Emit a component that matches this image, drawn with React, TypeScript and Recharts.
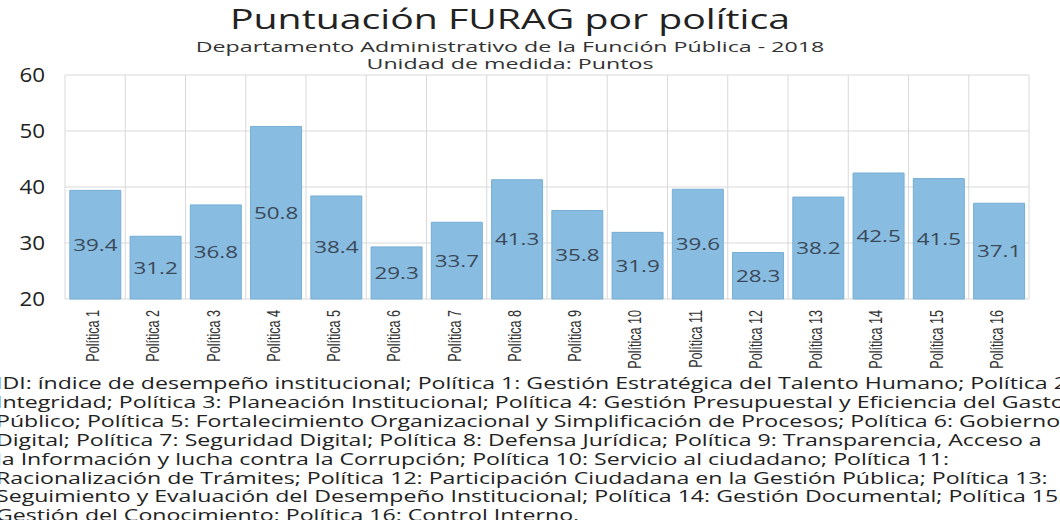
import React from 'react';
import { Bar, BarChart, CartesianGrid, LabelList, XAxis, YAxis } from 'recharts';

const politicas = [
  'Política 1', 'Política 2', 'Política 3', 'Política 4', 'Política 5', 'Política 6',
  'Política 7', 'Política 8', 'Política 9', 'Política 10', 'Política 11', 'Política 12',
  'Política 13', 'Política 14', 'Política 15', 'Política 16',
];
const puntos = [39.4, 31.2, 36.8, 50.8, 38.4, 29.3, 33.7, 41.3, 35.8, 31.9, 39.6, 28.3, 38.2, 42.5, 41.5, 37.1];
const yTicks = [20, 30, 40, 50, 60];

const titulo = 'Puntuación FURAG por política';
const subtitulos = ['Departamento Administrativo de la Función Pública - 2018', 'Unidad de medida: Puntos'];
const notas = [
  'IDI: índice de desempeño institucional; Política 1: Gestión Estratégica del Talento Humano; Política 2:',
  'Integridad; Política 3: Planeación Institucional; Política 4: Gestión Presupuestal y Eficiencia del Gasto',
  'Público; Política 5: Fortalecimiento Organizacional y Simplificación de Procesos; Política 6: Gobierno',
  'Digital; Política 7: Seguridad Digital; Política 8: Defensa Jurídica; Política 9: Transparencia, Acceso a',
  'la Información y lucha contra la Corrupción; Política 10: Servicio al ciudadano; Política 11:',
  'Racionalización de Trámites; Política 12: Participación Ciudadana en la Gestión Pública; Política 13:',
  'Seguimiento y Evaluación del Desempeño Institucional; Política 14: Gestión Documental; Política 15:',
  'Gestión del Conocimiento; Política 16: Control Interno.',
];

const data = politicas.map((name, i) => ({ name, value: puntos[i] }));

const FONT = '"Open Sans", "DejaVu Sans", sans-serif';

function YTick({ x, y, payload }: any) {
  return (
    <g transform={`translate(${x},${y}) scale(1.12,1)`}>
      <text x={0} y={0} dy={7} textAnchor="end" fill="#222" fontSize={20} fontFamily={FONT}>
        {payload.value}
      </text>
    </g>
  );
}

function XTick({ x, y, payload }: any) {
  return (
    <g transform={`translate(${x + 4},${y + 3}) rotate(-90) scale(0.7,1)`}>
      <text x={0} y={0} textAnchor="end" fill="#333" fontSize={18} fontFamily='"Liberation Sans", Arial, sans-serif'>
        {payload.value}
      </text>
    </g>
  );
}

function BarLabel({ x, y, width, height, value }: any) {
  return (
    <g transform={`translate(${x + width / 2},${y + height / 2}) scale(1.4,1)`}>
      <text x={0} y={0} dy={6} textAnchor="middle" fill="#3b4858" fontSize={16} fontFamily={FONT}>
        {value}
      </text>
    </g>
  );
}

export default function App() {
  return (
    <div
      style={{
        position: 'absolute',
        left: 0,
        top: 0,
        width: 1060,
        height: 520,
        overflow: 'hidden',
        background: '#fff',
        fontFamily: FONT,
      }}
    >
      <div
        style={{
          position: 'absolute',
          left: 0,
          width: 1020,
          top: 1,
          textAlign: 'center',
          fontSize: 28,
          color: '#222',
          lineHeight: '34px',
          transform: 'scaleX(1.4)',
        }}
      >
        {titulo}
      </div>
      <div
        style={{
          position: 'absolute',
          left: 0,
          width: 1020,
          top: 38,
          textAlign: 'center',
          fontSize: 14.5,
          color: '#333',
          lineHeight: '17px',
          transform: 'scaleX(1.6)',
        }}
      >
        {subtitulos.map((s) => (
          <div key={s}>{s}</div>
        ))}
      </div>
      <div style={{ position: 'absolute', left: 0, top: 0 }}>
        <BarChart
          width={1060}
          height={372}
          data={data}
          margin={{ top: 75, right: 31, bottom: 0, left: 10 }}
          barCategoryGap="8%"
        >
          <CartesianGrid
            stroke="#d9d9d9"
            verticalCoordinatesGenerator={({ offset }: any) =>
              politicas.map((_, i) => offset.left + (i * offset.width) / politicas.length).concat(offset.left + offset.width)
            }
          />
          <XAxis dataKey="name" interval={0} height={73} axisLine={false} tickLine={false} tick={<XTick />} />
          <YAxis
            domain={[20, 60]}
            ticks={yTicks}
            width={55}
            axisLine={false}
            tickLine={false}
            tickSize={0}
            tickMargin={20}
            tick={<YTick />}
          />
          <Bar dataKey="value" fill="#88bde1" stroke="#76aed6" strokeWidth={1} isAnimationActive={false}>
            <LabelList dataKey="value" content={<BarLabel />} />
          </Bar>
        </BarChart>
      </div>
      <div
        style={{
          position: 'absolute',
          left: -4,
          top: 374,
          fontSize: 16.5,
          lineHeight: '18.9px',
          color: '#222',
          whiteSpace: 'nowrap',
          transform: 'scaleX(1.4)',
          transformOrigin: '0 0',
        }}
      >
        {notas.map((n) => (
          <div key={n}>{n}</div>
        ))}
      </div>
    </div>
  );
}
